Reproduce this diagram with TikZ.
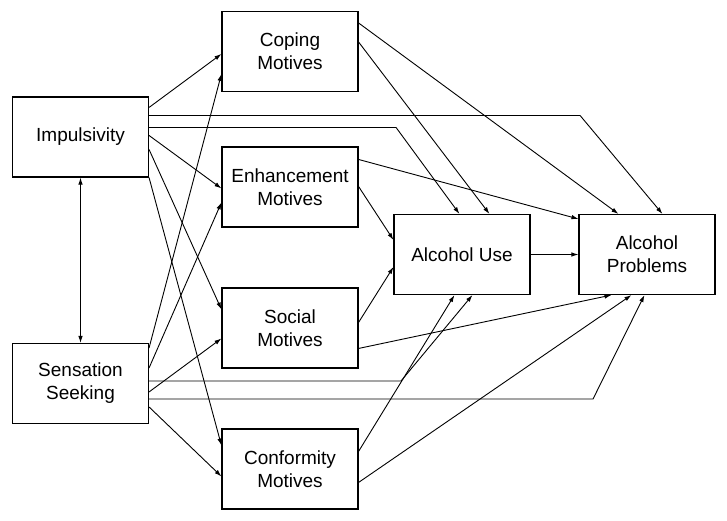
\documentclass[tikz,border=0pt]{standalone}
\usepackage{fontspec}
\setmainfont{Liberation Sans}
\usepackage{tikz}
\usetikzlibrary{arrows.meta}

\begin{document}
\begin{tikzpicture}[x=1pt, y=-1pt,
    box/.style={rectangle, draw, line width=1.1pt, minimum width=136pt, minimum height=80pt, inner sep=2pt, align=center, font=\fontsize{19}{23}\selectfont},
    arrow/.style={-{Latex[length=7pt,width=4.5pt]}, line width=0.9pt},
    both/.style={{Latex[length=7pt,width=4.5pt]}-{Latex[length=7pt,width=4.5pt]}, line width=0.9pt}
]
\useasboundingbox (0,0) rectangle (727,520);

\node[box] (imp) at (80.5,137) {Impulsivity};
\node[box] (sen) at (80.5,383.5) {Sensation\\Seeking};
\node[box] (cop) at (290,51.5) {Coping\\Motives};
\node[box] (enh) at (290,187) {Enhancement\\Motives};
\node[box] (soc) at (290,328) {Social\\Motives};
\node[box] (con) at (290,469) {Conformity\\Motives};
\node[box] (aus) at (462,254.5) {Alcohol Use};
\node[box] (apr) at (647,254.5) {Alcohol\\Problems};

\draw[both] (imp) -- (sen);

\draw[arrow] ([yshift=-11]imp.north east) -- ([yshift=-43]cop.north west);
\draw[arrow] ([yshift=-19]imp.north east) -- ++(431,0) -- ([xshift=84]apr.north west);
\draw[arrow] ([yshift=-31]imp.north east) -- ++(247,0) -- ([xshift=66]aus.north west);
\draw[arrow] ([yshift=-39]imp.north east) -- ([yshift=-42]enh.north west);
\draw[arrow] ([yshift=-53]imp.north east) -- ([yshift=-22]soc.north west);
\draw[arrow] (imp.south east) -- ([yshift=-17]con.north west);

\draw[arrow] ([yshift=-5]sen.north east) -- ([yshift=-63]cop.north west);
\draw[arrow] ([yshift=-25]sen.north east) -- ([yshift=-56]enh.north west);
\draw[arrow] ([yshift=-38]sen.north east) -- ++(252,0) -- ([xshift=79]aus.south west);
\draw[arrow] ([yshift=-49]sen.north east) -- ([yshift=-51]soc.north west);
\draw[arrow] ([yshift=-56]sen.north east) -- ++(444,0) -- ([xshift=66]apr.south west);
\draw[arrow] ([yshift=-64]sen.north east) -- ([yshift=-48]con.north west);

\draw[arrow] ([yshift=-12]cop.north east) -- ([xshift=40]apr.north west);
\draw[arrow] ([yshift=-31]cop.north east) -- ([xshift=96]aus.north west);
\draw[arrow] ([yshift=-13]enh.north east) -- ([yshift=-5]apr.north west);
\draw[arrow] ([yshift=-40]enh.north east) -- ([yshift=-26]aus.north west);
\draw[arrow] ([yshift=-35]soc.north east) -- ([yshift=-53]aus.north west);
\draw[arrow] ([yshift=-61]soc.north east) -- ([xshift=33]apr.south west);
\draw[arrow] ([yshift=-23]con.north east) -- ([xshift=61]aus.south west);
\draw[arrow] ([yshift=-54]con.north east) -- ([xshift=53]apr.south west);

\draw[arrow] (aus) -- (apr);

\end{tikzpicture}
\end{document}
